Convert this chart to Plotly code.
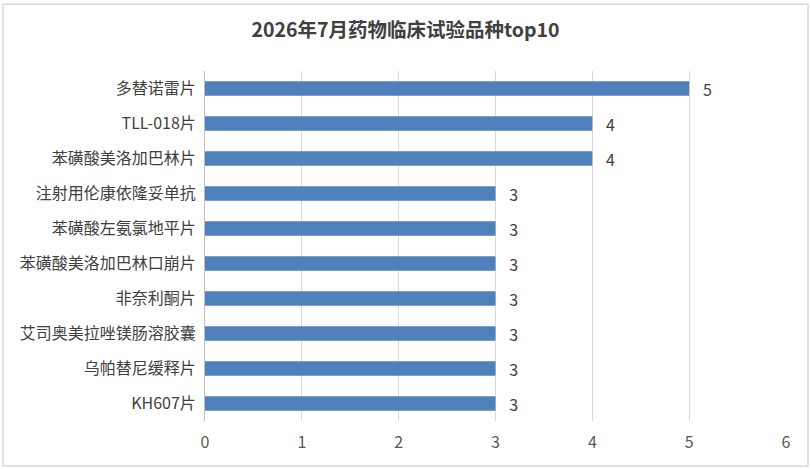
import plotly.graph_objects as go

title = "2026年7月药物临床试验品种top10"
categories = ["多替诺雷片", "TLL-018片", "苯磺酸美洛加巴林片", "注射用伦康依隆妥单抗",
              "苯磺酸左氨氯地平片", "苯磺酸美洛加巴林口崩片", "非奈利酮片",
              "艾司奥美拉唑镁肠溶胶囊", "乌帕替尼缓释片", "KH607片"]
values = [5, 4, 4, 3, 3, 3, 3, 3, 3, 3]
x_ticks = [0, 1, 2, 3, 4, 5, 6]

font_family = "Noto Sans CJK SC, Microsoft YaHei, sans-serif"

fig = go.Figure(go.Bar(
    x=values, y=categories, orientation="h",
    marker=dict(color="#4F81BD", line=dict(width=0)),
    text=["   " + str(v) for v in values], textposition="outside",
    constraintext="none",
    textfont=dict(size=16, color="#404040", family=font_family),
    cliponaxis=False,
))

fig.update_layout(
    width=811, height=469,
    margin=dict(l=205, r=25, t=71, b=48),
    paper_bgcolor="white", plot_bgcolor="white",
    title=dict(text="<b>" + title + "</b>", x=0.5, xanchor="center", y=0.935, yanchor="middle",
               font=dict(size=19.5, color="#404040", family=font_family)),
    bargap=0.59,
    showlegend=False,
    font=dict(family=font_family, color="#595959"),
)
fig.update_xaxes(range=[0, 6.0], tickvals=x_ticks, showgrid=True, gridcolor="#d9d9d9", gridwidth=1,
                 zeroline=False, showline=False, ticks="", ticklabelstandoff=10, automargin=False,
                 tickfont=dict(size=16, color="#595959"))
fig.update_yaxes(autorange="reversed", showline=True, linecolor="#bfbfbf", linewidth=1,
                 ticks="", ticklabelstandoff=5, automargin=False,
                 tickfont=dict(size=16, color="#404040"))

fig.add_shape(type="rect", xref="paper", yref="paper",
              x0=-0.3477, x1=1.0379, y0=-0.1286, y1=1.191,
              line=dict(color="#d9d9d9", width=1.5), fillcolor="rgba(0,0,0,0)", layer="below")

fig.write_html("out.html", config={"displayModeBar": False},
               post_script="document.body.style.margin='0';")
